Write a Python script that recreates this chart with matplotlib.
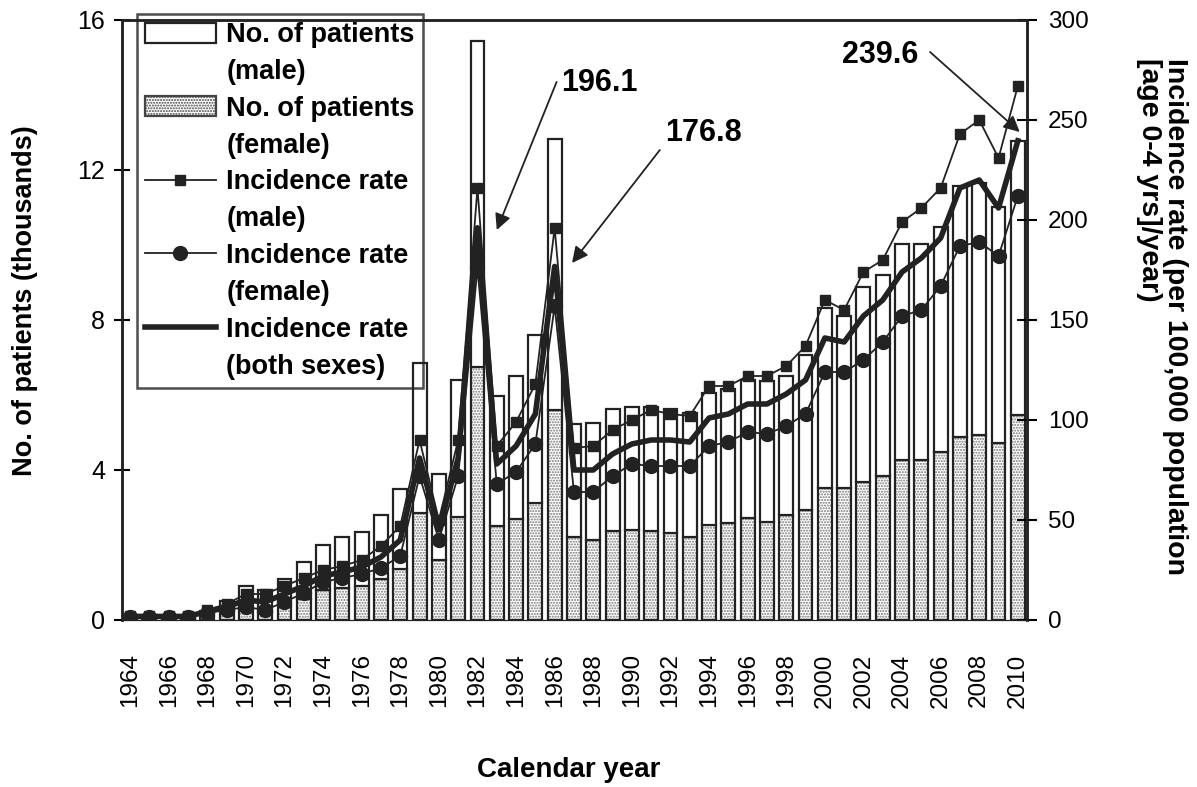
import matplotlib
matplotlib.use('Agg')
import matplotlib.pyplot as plt
from matplotlib.patches import Patch
from matplotlib.lines import Line2D
import numpy as np

plt.rcParams['font.family'] = ['Liberation Sans', 'DejaVu Sans']

years = list(range(1964, 2011))

# thousands of patients (female bar at bottom, male stacked on top)
female_pts = [0.02, 0.02, 0.03, 0.03, 0.10, 0.20, 0.30, 0.20, 0.40, 0.55,
              0.80, 0.85, 0.90, 1.10, 1.36, 2.86, 1.61, 2.75, 6.75, 2.50,
              2.70, 3.12, 5.61, 2.20, 2.13, 2.36, 2.40, 2.36, 2.31, 2.22,
              2.53, 2.58, 2.71, 2.62, 2.80, 2.93, 3.53, 3.53, 3.69, 3.85,
              4.27, 4.27, 4.47, 4.89, 4.94, 4.73, 5.46]
male_pts = [0.03, 0.03, 0.03, 0.05, 0.15, 0.30, 0.60, 0.60, 0.70, 1.00,
            1.20, 1.35, 1.45, 1.70, 2.14, 4.00, 2.29, 3.65, 8.68, 3.47,
            3.80, 4.47, 7.22, 3.03, 3.12, 3.26, 3.29, 3.33, 3.31, 3.31,
            3.53, 3.58, 3.69, 3.74, 3.70, 4.14, 4.79, 4.57, 5.19, 5.35,
            5.76, 5.76, 6.02, 6.69, 6.70, 6.28, 7.32]

# incidence per 100,000 population aged 0-4
rate_male = [2, 2, 2, 2, 5, 8, 13, 13, 17, 21,
             25, 27, 30, 37, 47, 90, 50, 90, 216, 87,
             99, 118, 196, 86, 87, 95, 100, 105, 103, 102,
             117, 117, 122, 122, 127, 137, 160, 155, 174, 180,
             199, 206, 216, 243, 250, 231, 267]
rate_female = [1.5, 1.5, 1.5, 1.5, 3.5, 5, 6.5, 5, 9, 13.5,
               19, 21, 23, 26, 32, 72, 40, 72, 176, 68,
               74, 88, 157, 64, 64, 72, 78, 77, 77, 77,
               87, 89, 94, 93, 97, 103, 124, 124, 130, 139,
               152, 155, 167, 187, 189, 182, 212]
rate_both = [1.8, 1.8, 1.8, 1.8, 4.3, 6.5, 10, 9, 13, 17,
             22, 24, 26.5, 31.5, 40, 81, 45, 81, 196.1, 78,
             87, 103, 176.8, 75, 75, 83, 88, 90, 90, 89,
             101, 103, 108, 108, 113, 120, 141, 139, 152, 160,
             174, 181, 191, 216, 220, 206, 239.6]

fig = plt.figure(figsize=(11.97, 7.87), dpi=100)
ax = fig.add_axes([0.1019, 0.2122, 0.756, 0.7624])
ax2 = ax.twinx()

w = 0.72
# stippled female bars
ax.bar(years, female_pts, w, color='white', edgecolor='#777777', hatch='......', linewidth=0, zorder=2)
ax.bar(years, female_pts, w, fill=False, edgecolor='#222222', linewidth=1.6, zorder=3)
ax.bar(years, male_pts, w, bottom=female_pts, color='white', edgecolor='#222222', linewidth=1.6, zorder=3)

ax2.plot(years, rate_male, '-', color='#222222', lw=1.3, marker='s', ms=7.5, zorder=4)
ax2.plot(years, rate_female, '-', color='#222222', lw=1.3, marker='o', ms=10, zorder=4)
ax2.plot(years, rate_both, '-', color='#222222', lw=4, zorder=5)

ax.set_xlim(1963.58, 2010.47)
ax.set_ylim(0, 16)
ax2.set_ylim(0, 300)
ax.set_yticks([0, 4, 8, 12, 16])
ax2.set_yticks(range(0, 301, 50))
ax.set_xticks(range(1964, 2011, 2))
ax.set_xticklabels([str(y) for y in range(1964, 2011, 2)], rotation=90, fontsize=17.5)
ax.tick_params(axis='x', length=0, pad=24)
ax.tick_params(axis='y', direction='inout', length=12, width=1.5, labelsize=18, pad=6)
ax2.tick_params(axis='y', direction='inout', length=14, width=1.5, labelsize=17.5, pad=8)
for a in (ax, ax2):
    for s in a.spines.values():
        s.set_linewidth(1.8)
        s.set_color('#222222')
    a.spines['bottom'].set_linewidth(0.8)

fig.text(569 / 1197, 1 - 770 / 787, 'Calendar year', fontsize=20, fontweight='bold',
         ha='center', va='center')
fig.text(25 / 1197, 1 - 301 / 787, 'No. of patients (thousands)', fontsize=19.5,
         fontweight='bold', rotation=90, ha='center', va='center')
fig.text(1162 / 1197, 1 - 58 / 787, 'Incidence rate (per 100,000 population\n[age 0-4 yrs]/year)',
         fontsize=20.5, fontweight='bold', rotation=270, ha='center', va='top',
         multialignment='left', linespacing=1.05)

# callouts
arrow = dict(arrowstyle='-|>', color='#222222', lw=1.3, mutation_scale=24, shrinkA=0, shrinkB=0)
ax2.annotate('', xy=(1983.0, 195), xytext=(1986.1, 269), arrowprops=arrow)
ax2.text(1986.35, 268.5, '196.1', fontsize=22, fontweight='bold', va='center', ha='left')
ax2.annotate('', xy=(1986.9, 178.5), xytext=(1991.45, 235), arrowprops=arrow)
ax2.text(1991.7, 243.5, '176.8', fontsize=22, fontweight='bold', va='center', ha='left')
ax2.annotate('', xy=(2010.1, 244), xytext=(2005.45, 284), arrowprops=arrow)
ax2.text(2000.9, 282.5, '239.6', fontsize=22, fontweight='bold', va='center', ha='left')

# legend: one row per text line, handle beside the first line of each entry
blank = Line2D([], [], linestyle='none')
handles = [
    Patch(facecolor='white', edgecolor='#222222', linewidth=1.6), blank,
    Patch(facecolor='white', edgecolor='#444444', hatch='......', linewidth=1.6), blank,
    Line2D([], [], color='#222222', lw=1.3, marker='s', ms=7.5), blank,
    Line2D([], [], color='#222222', lw=1.3, marker='o', ms=10), blank,
    Line2D([], [], color='#222222', lw=4), blank,
]
labels = ['No. of patients', '(male)', 'No. of patients', '(female)',
          'Incidence rate', '(male)', 'Incidence rate', '(female)',
          'Incidence rate', '(both sexes)']
leg = ax2.legend(handles, labels, loc='upper left', bbox_to_anchor=(137 / 1197, 1 - 14 / 787),
                 bbox_transform=fig.transFigure, prop={'weight': 'bold', 'size': 19.5},
                 frameon=True, fancybox=False, handlelength=2.6, handleheight=0.75,
                 handletextpad=0.4, labelspacing=0.4, borderpad=0.3, borderaxespad=0)
leg.get_frame().set_edgecolor('#222222')
leg.get_frame().set_linewidth(1.8)
leg.get_frame().set_facecolor('none')
leg.set_zorder(10)

fig.savefig('out.png', dpi=100)
